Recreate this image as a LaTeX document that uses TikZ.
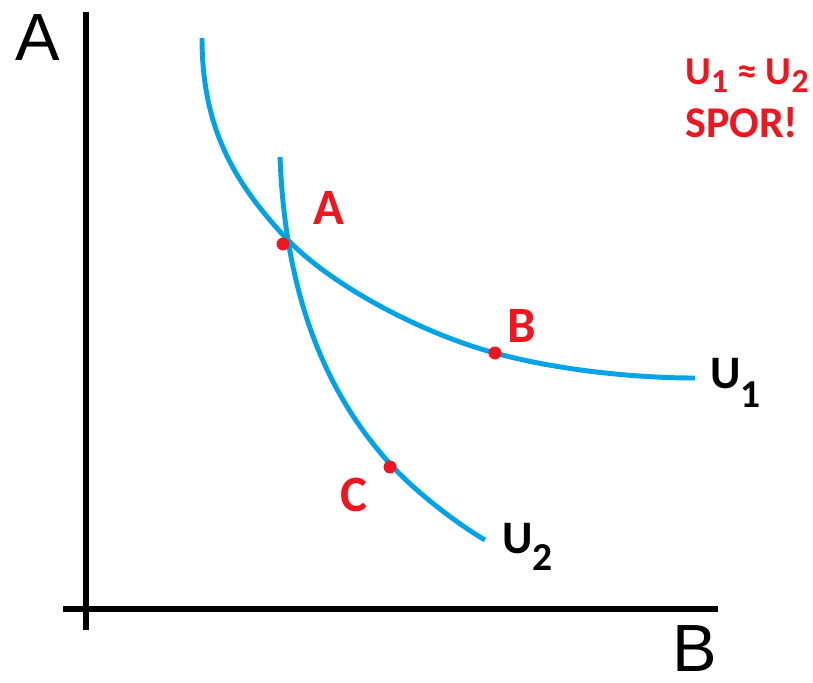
\documentclass[tikz,border=0pt]{standalone}
\usepackage{fontspec}
\usepackage{graphicx}
\setmainfont{Liberation Sans}
\newfontfamily\calfont{Carlito}
\usetikzlibrary{positioning}
\definecolor{ublue}{RGB}{0,162,232}
\definecolor{pred}{RGB}{240,22,32}
\newcommand{\usub}[3][0.85]{\raisebox{#2}{\scalebox{#1}{#3}}}

\begin{document}
\begin{tikzpicture}[x=0.02cm,y=-0.02cm]
  \tikzstyle{axis}=[line width=3.4pt]
  \tikzstyle{curve}=[ublue,line width=2.8pt]
  \tikzstyle{axlabel}=[inner sep=0pt,font=\fontsize{38}{44}\selectfont]
  \tikzstyle{ptlabel}=[inner sep=0pt,text=pred,font=\calfont\bfseries\fontsize{29}{34}\selectfont]
  \tikzstyle{ulabel}=[inner sep=0pt,anchor=base west,font=\calfont\bfseries\fontsize{26.5}{30}\selectfont]
  \tikzstyle{note}=[ulabel,text=pred,font=\calfont\bfseries\fontsize{25}{30}\selectfont]
  \tikzstyle{dot}=[circle,fill=pred,inner sep=0pt,minimum size=0.26cm]
  \useasboundingbox (0,0) rectangle (813,682);
  % axes
  \draw[axis] (86,12) -- (86,630);
  \draw[axis] (63,609) -- (718,609);
  \node[axlabel] (yA) at (38,38) {A};
  \node[axlabel] (xB) at (695,649) {B};
  % indifference curves
  \draw[curve] (202,38) .. controls (202,130) and (236,184) .. (285,237)
    .. controls (333,288) and (427,335) .. (495,353)
    .. controls (553,369) and (630,378) .. (695,378);
  \draw[curve] (280,157) .. controls (286,317) and (339,409) .. (393,467)
    .. controls (417,493) and (459,525) .. (485,540);
  % points
  \node[dot] (dA) at (283,244) {};
  \node[dot] (dB) at (495,353) {};
  \node[dot] (dC) at (390,467) {};
  \node[ptlabel] (lA) at (329,208) {A};
  \node[ptlabel] (lB) at (522,326) {B};
  \node[ptlabel] (lC) at (354,495) {C};
  \node[ulabel] (U1) at (710,388) {U\usub{-11pt}{1}};
  \node[ulabel] (U2) at (502,553) {U\usub{-10pt}{2}};
  % note
  \node[note,font=\calfont\bfseries\fontsize{22.5}{27}\selectfont] (eq) at (685,85)
    {U\usub{-4.5pt}{1} ≈ U\usub{-4.5pt}{2}};
  \node[note] (spor) at (685,137) {SPOR!};
\end{tikzpicture}
\end{document}
